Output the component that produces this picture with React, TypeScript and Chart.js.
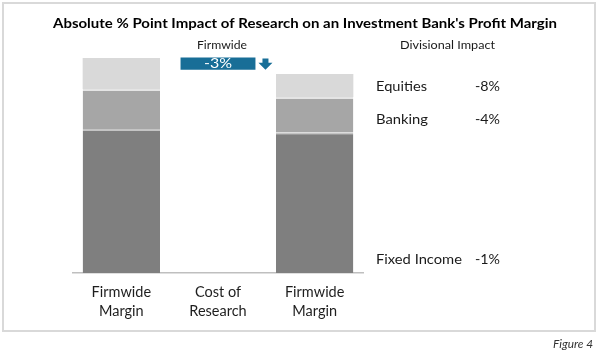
import React, { useEffect, useRef } from "react";
import { Chart, registerables } from "chart.js";

Chart.register(...registerables);

const categories = [["Firmwide", "Margin"], ["Cost of", "Research"], ["Firmwide", "Margin"]];
const fixedIncome = [27.0, null, 26.4];
const banking = [7.5, null, 6.6];
const equities = [5.8, null, 4.3];
const costOfResearch = [null, [38.1, 40.4], null];
const costLabel = "-3%";
const divisions = ["Equities", "Banking", "Fixed Income"];
const divisionalImpact = ["-8%", "-4%", "-1%"];
const divisionBaselines = [91, 124, 264];

const FONT = "Lato";
const BLUE = "#186e97";

function drawFit(
  ctx: CanvasRenderingContext2D,
  text: string,
  x: number,
  y: number,
  font: string,
  width: number,
  align: "left" | "center" | "right",
  color: string
) {
  ctx.save();
  ctx.font = font;
  ctx.fillStyle = color;
  ctx.textBaseline = "alphabetic";
  ctx.textAlign = "left";
  const w = ctx.measureText(text).width;
  const s = width / w;
  const left = align === "left" ? x : align === "center" ? x - width / 2 : x - width;
  ctx.translate(left, y);
  ctx.scale(s, 1);
  ctx.fillText(text, 0, 0);
  ctx.restore();
}

const decorPlugin = {
  id: "decor",
  beforeDraw(chart: any) {
    const ctx = chart.ctx as CanvasRenderingContext2D;
    ctx.save();
    ctx.fillStyle = "#ffffff";
    ctx.fillRect(0, 0, chart.width, chart.height);
    ctx.strokeStyle = "#d9d9d9";
    ctx.lineWidth = 2;
    ctx.strokeRect(3, 3, 592, 328);
    ctx.restore();
  },
  afterDraw(chart: any) {
    const ctx = chart.ctx as CanvasRenderingContext2D;
    const txt = "#1a1a1a";
    drawFit(ctx, "Absolute % Point Impact of Research on an Investment Bank's Profit Margin", 305, 28, `bold 14px ${FONT}`, 504, "center", "#000");
    drawFit(ctx, "Firmwide", 197, 49, `12px ${FONT}`, 50, "left", txt);
    drawFit(ctx, "Divisional Impact", 400, 49, `12px ${FONT}`, 95, "left", txt);
    const nameWidths = [51, 52, 86];
    divisions.forEach((d, i) => {
      drawFit(ctx, d, 376, divisionBaselines[i], `14px ${FONT}`, nameWidths[i], "left", txt);
      drawFit(ctx, divisionalImpact[i], 475, divisionBaselines[i], `13px ${FONT}`, 25, "left", txt);
    });
    drawFit(ctx, "Figure 4", 553, 347.5, `italic 12px ${FONT}`, 40, "left", "#333");

    const meta = chart.getDatasetMeta(3);
    const bar = meta.data[1];
    if (bar) {
      const cx = bar.x;
      const top = Math.min(bar.y, bar.base);
      const bottom = Math.max(bar.y, bar.base);
      drawFit(ctx, costLabel, cx, bottom - 2.3, `13px ${FONT}`, 28, "center", "#ffffff");
      const ax = cx + bar.width / 2 + 10;
      const h = bottom - top;
      const mid = top + h * 0.42;
      ctx.save();
      ctx.fillStyle = BLUE;
      ctx.beginPath();
      ctx.moveTo(ax - 3, top + 1);
      ctx.lineTo(ax + 3, top + 1);
      ctx.lineTo(ax + 3, mid);
      ctx.lineTo(ax + 7, mid);
      ctx.lineTo(ax, bottom);
      ctx.lineTo(ax - 7, mid);
      ctx.lineTo(ax - 3, mid);
      ctx.closePath();
      ctx.fill();
      ctx.restore();
    }
  },
};

export default function App() {
  const ref = useRef<HTMLCanvasElement>(null);
  useEffect(() => {
    if (!ref.current) return;
    const chart = new Chart(ref.current, {
      type: "bar",
      data: {
        labels: categories as any,
        datasets: [
          {
            label: "Fixed Income",
            data: fixedIncome as any,
            backgroundColor: "#7f7f7f",
            borderColor: "#c4c4c4",
            borderWidth: { top: 2, left: 0, right: 0, bottom: 0 } as any,
            borderSkipped: false,
          },
          {
            label: "Banking",
            data: banking as any,
            backgroundColor: "#a6a6a6",
            borderColor: "#e4e4e4",
            borderWidth: { top: 2, left: 0, right: 0, bottom: 0 } as any,
            borderSkipped: false,
          },
          {
            label: "Equities",
            data: equities as any,
            backgroundColor: "#d9d9d9",
            borderWidth: 0,
          },
          {
            label: "Cost of Research",
            data: costOfResearch as any,
            backgroundColor: BLUE,
            borderWidth: 0,
            yAxisID: "y2",
            barPercentage: 0.775,
          },
        ],
      },
      options: {
        animation: false,
        responsive: false,
        maintainAspectRatio: false,
        layout: { padding: { left: 73, right: 237, top: 273 - 44 * (16 / 3), bottom: 0 } },
        datasets: { bar: { categoryPercentage: 1, barPercentage: 0.8 } },
        plugins: { legend: { display: false }, tooltip: { enabled: false }, title: { display: false } },
        scales: {
          x: {
            stacked: true,
            grid: { display: false, drawTicks: false, tickLength: 0 },
            border: { display: true, color: "#bfbfbf", width: 1.5 },
            ticks: {
              padding: 10,
              color: "#1e1e1e",
              font: { family: FONT, size: 14.5, lineHeight: 1.3 },
              maxRotation: 0,
              autoSkip: false,
            },
            afterFit(scale: any) {
              scale.height = 82;
            },
          },
          y: {
            stacked: true,
            display: false,
            min: 0,
            max: 44,
          },
          y2: {
            stacked: false,
            display: false,
            min: 0,
            max: 44,
          },
        },
      },
      plugins: [decorPlugin],
    });
    return () => chart.destroy();
  }, []);
  return (
    <div style={{ position: "fixed", left: 0, top: 0, width: 600, height: 355, background: "#fff" }}>
      <canvas ref={ref} width={600} height={355} style={{ display: "block", width: 600, height: 355 }} />
    </div>
  );
}
